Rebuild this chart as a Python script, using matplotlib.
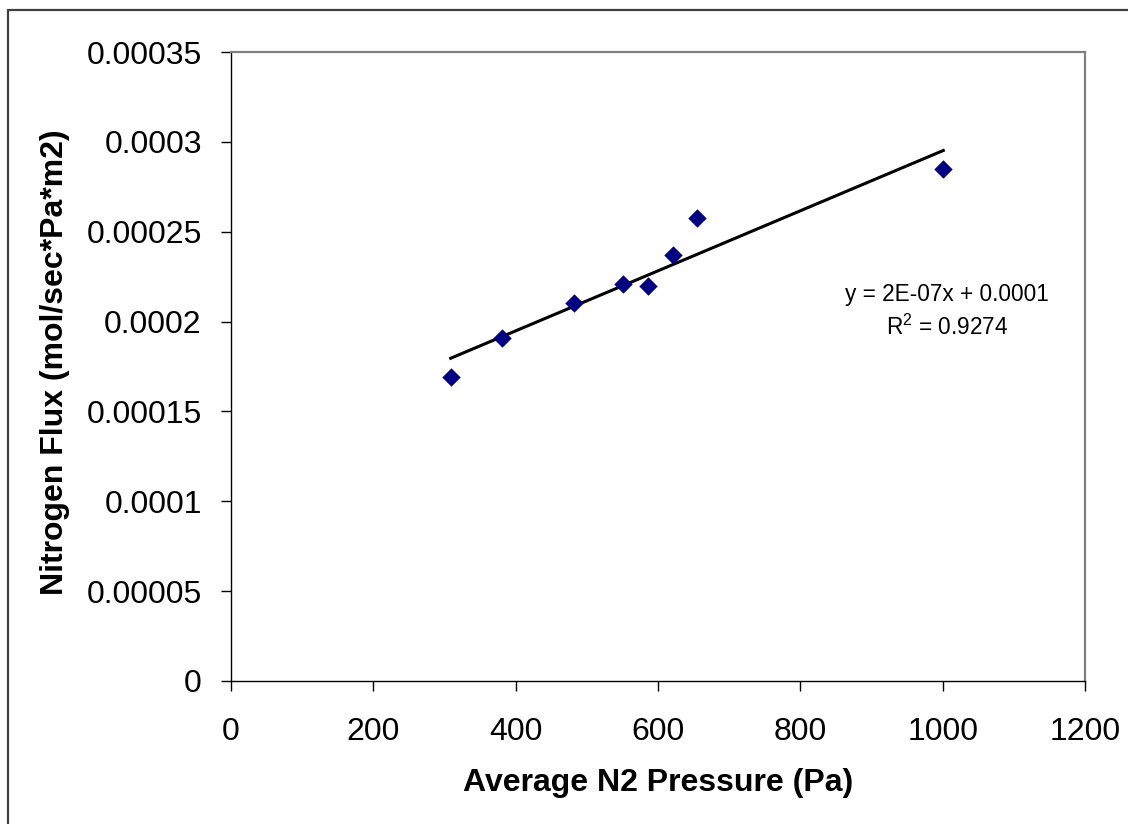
import numpy as np
import matplotlib
matplotlib.use("Agg")
import matplotlib.pyplot as plt
from matplotlib.patches import Rectangle

pressure = [308.7, 380.3, 482.4, 551.3, 585.9, 620.6, 654.3, 1000.9]
flux = [0.0001693, 0.0001907, 0.0002105, 0.0002207, 0.0002198, 0.0002368, 0.0002574, 0.0002847]
x_ticks = [0, 200, 400, 600, 800, 1000, 1200]
y_ticks = [0, 0.00005, 0.0001, 0.00015, 0.0002, 0.00025, 0.0003, 0.00035]
y_tick_labels = ["0", "0.00005", "0.0001", "0.00015", "0.0002", "0.00025", "0.0003", "0.00035"]
eq_text = "y = 2E-07x + 0.0001"
r2_text = r"R$^{\mathrm{2}}$ = 0.9274"

plt.rcParams['font.family'] = ['Liberation Sans', 'DejaVu Sans']
plt.rcParams['mathtext.fontset'] = 'custom'
plt.rcParams['mathtext.rm'] = 'Liberation Sans'
plt.rcParams['mathtext.it'] = 'Liberation Sans'

W, H = 1128, 824
fig = plt.figure(figsize=(W / 100, H / 100), dpi=100)
ax = fig.add_axes([231 / W, 1 - 681 / H, (1085 - 231) / W, (681 - 52) / H])

ax.scatter(pressure, flux, marker='D', s=88, color='#000080', zorder=3, linewidths=0)

coef = np.polyfit(pressure, flux, 1)
xs = np.array([min(pressure), max(pressure)])
ax.plot(xs, np.polyval(coef, xs), color='black', lw=2.2, zorder=2)

ax.set_xlim(0, 1200)
ax.set_ylim(0, 0.00035)
ax.set_xticks(x_ticks)
ax.set_xticklabels([str(v) for v in x_ticks])
ax.set_yticks(y_ticks)
ax.set_yticklabels(y_tick_labels)
ax.tick_params(axis='both', direction='out', length=7, width=1, labelsize=23, colors='black')
ax.tick_params(axis='x', pad=19)
ax.tick_params(axis='y', pad=14)

for side in ['left', 'bottom']:
    ax.spines[side].set_color('black')
    ax.spines[side].set_linewidth(1)
for side in ['top', 'right']:
    ax.spines[side].set_color('#808080')
    ax.spines[side].set_linewidth(1.6)

fig.text(658 / W, 1 - 783 / H, "Average N2 Pressure (Pa)", fontsize=23, fontweight='bold',
         ha='center', va='center')
fig.text(55 / W, 1 - 362 / H, "Nitrogen Flux (mol/sec*Pa*m2)", fontsize=23, fontweight='bold',
         ha='center', va='center', rotation=90)

fig.text(947 / W, 1 - 295 / H, eq_text, fontsize=16.3, ha='center', va='center')
fig.text(947 / W, 1 - 327 / H, r2_text, fontsize=16.3, ha='center', va='center')

fig.patches.append(Rectangle((7.5 / W, -0.1), 1.2, 1 - 9.5 / H + 0.1, transform=fig.transFigure,
                             fill=False, edgecolor='#404040', linewidth=1.6))

fig.savefig("out.png", dpi=100)
